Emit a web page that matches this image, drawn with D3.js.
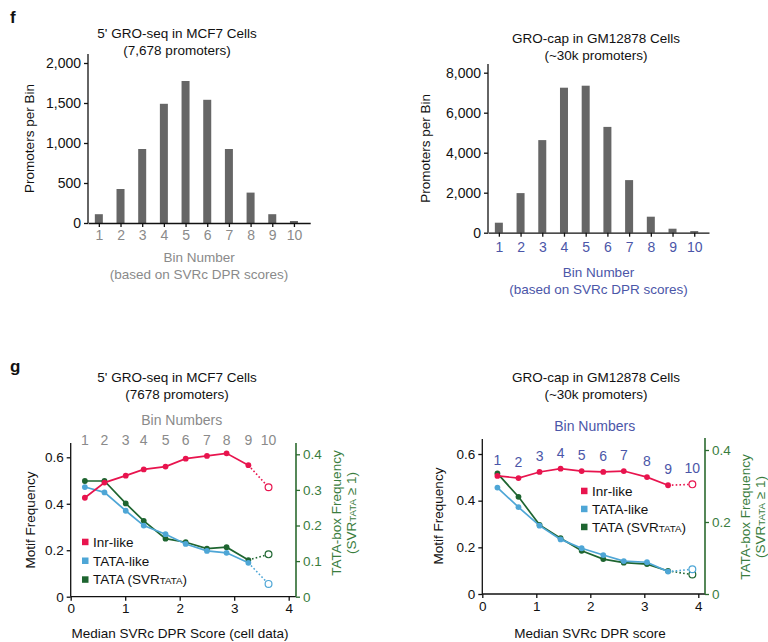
<!DOCTYPE html>
<html>
<head>
<meta charset="utf-8">
<script src="https://cdn.jsdelivr.net/npm/d3@7"></script>
<style>
  html, body { margin: 0; padding: 0; background: #fff; }
  svg { display: block; font-family: "Liberation Sans", Arial, Helvetica, sans-serif; }
</style>
</head>
<body>
<svg id="fig" width="768" height="642"></svg>
<script>
// ---- data ----
const bins = [1, 2, 3, 4, 5, 6, 7, 8, 9, 10];

// Panel f: promoters per bin
const mcf7Counts = [110, 425, 925, 1490, 1775, 1540, 925, 380, 110, 25];
const gmCounts = [500, 1980, 4630, 7250, 7350, 5290, 2630, 800, 200, 80];
const mcf7CountTicks = [0, 500, 1000, 1500, 2000];
const gmCountTicks = [0, 2000, 4000, 6000, 8000];

// Panel g: motif frequency vs median SVRc DPR score
const mcf7Score = [0.26, 0.62, 1.01, 1.34, 1.74, 2.11, 2.50, 2.86, 3.26, 3.63];
const mcf7Inr = [0.426, 0.491, 0.521, 0.548, 0.560, 0.594, 0.606, 0.617, 0.566, 0.471];
const mcf7TataLike = [0.472, 0.449, 0.370, 0.306, 0.269, 0.227, 0.197, 0.189, 0.146, 0.055];
const mcf7TataSvr = [0.325, 0.325, 0.262, 0.213, 0.163, 0.153, 0.135, 0.139, 0.103, 0.119];

const gmScore = [0.28, 0.67, 1.06, 1.45, 1.84, 2.24, 2.62, 3.05, 3.44, 3.89];
const gmInr = [0.506, 0.497, 0.523, 0.537, 0.527, 0.523, 0.527, 0.501, 0.466, 0.470];
const gmTataLike = [0.456, 0.372, 0.293, 0.234, 0.196, 0.167, 0.141, 0.136, 0.096, 0.106];
const gmTataSvr = [0.335, 0.270, 0.192, 0.155, 0.120, 0.097, 0.087, 0.083, 0.064, 0.054];

const scoreTicks = [0, 1, 2, 3, 4];
const motifTicks = [0, 0.2, 0.4, 0.6];
const mcf7TataTicks = [0, 0.1, 0.2, 0.3, 0.4];
const gmTataTicks = [0, 0.2, 0.4];

// ---- styles ----
const C = {
  bar: "#666666",
  gray: "#8a8a8a",
  blueText: "#4b56a8",
  inr: "#e8144e",
  tataLike: "#4ea6d6",
  tataSvr: "#1e6530",
  greenAxis: "#2b6a2f",
  greenText: "#3a7d3e"
};
const svg = d3.select("#fig");
const fracFormat = d => d === 0 ? "0" : d3.format(".1f")(d);

function txt(x, y, s, opts = {}) {
  const t = svg.append("text")
    .attr("x", x).attr("y", y)
    .attr("text-anchor", opts.anchor || "middle")
    .attr("font-size", opts.size || 13.5)
    .attr("fill", opts.fill || "#111");
  if (opts.weight) t.attr("font-weight", opts.weight);
  if (opts.rotate) t.attr("transform", `rotate(${opts.rotate},${x},${y})`);
  t.text(s);
  return t;
}

// text with the small "TATA" of SVR_TATA
function svrText(x, y, before, after, opts = {}) {
  const t = svg.append("text")
    .attr("x", x).attr("y", y)
    .attr("text-anchor", opts.anchor || "start")
    .attr("font-size", opts.size || 13.5)
    .attr("fill", opts.fill || "#111");
  if (opts.rotate) t.attr("transform", `rotate(${opts.rotate},${x},${y})`);
  t.append("tspan").text(before + "SVR");
  t.append("tspan").attr("font-size", (opts.size || 13.5) * 0.72).text("TATA");
  t.append("tspan").text(after);
  return t;
}

function styleAxis(g, color, width, textColor, size) {
  g.select(".domain").attr("stroke", color).attr("stroke-width", width);
  g.selectAll(".tick line").attr("stroke", color).attr("stroke-width", 1.3);
  g.selectAll(".tick text").attr("font-size", size).attr("fill", textColor).attr("font-family", null);
}

// ---- bar chart (panel f) ----
function barChart(cfg) {
  const x = d3.scaleLinear().domain([0.5, cfg.xEnd]).range([cfg.x0, cfg.x1]);
  const y = d3.scaleLinear().domain([0, cfg.yMax]).range([cfg.y0, cfg.yTop]);

  svg.append("g").selectAll("rect").data(cfg.values).join("rect")
    .attr("x", (d, i) => x(bins[i]) - cfg.barW / 2)
    .attr("y", d => y(d))
    .attr("width", cfg.barW)
    .attr("height", d => y(0) - y(d))
    .attr("fill", C.bar);

  const yAxis = svg.append("g")
    .attr("transform", `translate(${cfg.x0},0)`)
    .call(d3.axisLeft(y).tickValues(cfg.ticks).tickFormat(d3.format(",")).tickSize(4).tickPadding(3).tickSizeOuter(0));
  styleAxis(yAxis, "#111", 1.3, "#111", 14);
  yAxis.select(".domain").attr("d", `M0,${cfg.y0}V${cfg.axisTop}`);

  const xAxis = svg.append("g")
    .attr("transform", `translate(0,${cfg.y0})`)
    .call(d3.axisBottom(x).tickValues(bins).tickFormat(d3.format("d")).tickSize(4).tickPadding(cfg.xPad).tickSizeOuter(0));
  styleAxis(xAxis, "#111", 1.3, cfg.xColor, 14);

  txt(cfg.titleX, cfg.titleY, cfg.title1);
  txt(cfg.titleX, cfg.titleY + 17, cfg.title2);
  txt(cfg.yTitleX, (cfg.y0 + cfg.axisTop) / 2, "Promoters per Bin", { rotate: -90 });
  txt((cfg.x0 + cfg.x1) / 2, cfg.xTitleY, "Bin Number", { fill: cfg.xColor });
  txt((cfg.x0 + cfg.x1) / 2, cfg.xTitleY + 16.5, "(based on SVRc DPR scores)", { fill: cfg.xColor });
}

// ---- line chart (panel g) ----
function lineChart(cfg) {
  const x = d3.scaleLinear().domain([0, 4]).range([cfg.x0, cfg.x4]);
  const yL = d3.scaleLinear().domain([0, 0.6]).range([cfg.y0, cfg.yL06]);
  const yR = d3.scaleLinear().domain([0, 0.4]).range([cfg.y0, cfg.yR04]);

  // axes
  const xa = svg.append("g").attr("transform", `translate(0,${cfg.y0})`)
    .call(d3.axisBottom(x).tickValues(scoreTicks).tickFormat(d3.format("d")).tickSize(4).tickPadding(3).tickSizeOuter(0));
  styleAxis(xa, "#111", 1.3, "#111", 13.5);
  xa.select(".domain").attr("d", `M${cfg.x0},0H${cfg.xEnd}`);

  const ya = svg.append("g").attr("transform", `translate(${cfg.x0},0)`)
    .call(d3.axisLeft(yL).tickValues(motifTicks).tickFormat(fracFormat).tickSize(4).tickPadding(3).tickSizeOuter(0));
  styleAxis(ya, "#111", 1.3, "#111", 13.5);
  ya.select(".domain").attr("d", `M0,${cfg.y0}V${cfg.axisTopL}`);

  const yr = svg.append("g").attr("transform", `translate(${cfg.xEnd},0)`)
    .call(d3.axisRight(yR).tickValues(cfg.rTicks).tickFormat(fracFormat).tickSize(4).tickPadding(3).tickSizeOuter(0));
  styleAxis(yr, C.greenAxis, 1.6, C.greenText, 13.5);
  yr.select(".domain").attr("d", `M0,${cfg.y0}V${cfg.axisTopR}`);

  // series: solid through bin 9, dotted to bin 10 (open marker)
  const series = [
    { vals: cfg.tataSvr, y: yR, color: C.tataSvr },
    { vals: cfg.tataLike, y: yL, color: C.tataLike },
    { vals: cfg.inr, y: yL, color: C.inr }
  ];
  const line = d3.line();
  series.forEach(s => {
    const pts = s.vals.map((v, i) => [x(cfg.score[i]), s.y(v)]);
    const g = svg.append("g");
    g.append("path").attr("d", line(pts.slice(0, 9)))
      .attr("fill", "none").attr("stroke", s.color).attr("stroke-width", 1.7);
    g.append("path").attr("d", line(pts.slice(8, 10)))
      .attr("fill", "none").attr("stroke", s.color).attr("stroke-width", 1.6)
      .attr("stroke-dasharray", "1.6,2.2");
    g.selectAll("circle.f").data(pts.slice(0, 9)).join("circle")
      .attr("cx", d => d[0]).attr("cy", d => d[1]).attr("r", 2.9)
      .attr("fill", s.color);
    g.append("circle").attr("cx", pts[9][0]).attr("cy", pts[9][1]).attr("r", 3.4)
      .attr("fill", "#fff").attr("stroke", s.color).attr("stroke-width", 1.2);
  });

  // bin number labels along the top
  svg.append("g").selectAll("text").data(bins).join("text")
    .attr("x", (d, i) => x(cfg.score[i]))
    .attr("y", (d, i) => cfg.binLabelY != null ? cfg.binLabelY : yL(cfg.inr[i]) - 11)
    .attr("text-anchor", "middle")
    .attr("font-size", 14)
    .attr("fill", cfg.binColor)
    .text(d => d);
  txt(cfg.binTitleX, cfg.binTitleY, "Bin Numbers", { fill: cfg.binColor, size: 14 });

  // legend
  const legend = [
    { label: "Inr-like", color: C.inr },
    { label: "TATA-like", color: C.tataLike },
    { label: "TATA", color: C.tataSvr, svr: true }
  ];
  legend.forEach((l, i) => {
    const ly = cfg.legY + i * cfg.legStep;
    svg.append("rect").attr("x", cfg.legX - 3).attr("y", ly - 3).attr("width", 6.5).attr("height", 6.5).attr("fill", l.color);
    if (l.svr) svrText(cfg.legX + 8, ly + 5, "TATA (", ")");
    else txt(cfg.legX + 8, ly + 5, l.label, { anchor: "start" });
  });

  // titles
  txt(cfg.titleX, cfg.titleY, cfg.title1);
  txt(cfg.titleX, cfg.titleY + 17, cfg.title2);
  txt(cfg.yTitleX, cfg.yTitleY, "Motif Frequency", { rotate: -90 });
  txt(cfg.xTitleX, cfg.xTitleY, cfg.xTitle);
  txt(cfg.rTitleX, cfg.rTitleY, "TATA-box Frequency", { rotate: -90, fill: C.greenText });
  svrText(cfg.rTitleX + 15, cfg.rTitleY, "(", " \u2265 1)", { rotate: -90, anchor: "middle", fill: C.greenText });
}

// panel labels
txt(10, 23, "f", { anchor: "start", size: 17, weight: "bold" });
txt(10, 372, "g", { anchor: "start", size: 17, weight: "bold" });

barChart({
  values: mcf7Counts, ticks: mcf7CountTicks, yMax: 2000,
  x0: 88, x1: 310.2, xEnd: 10.75, y0: 223, yTop: 63, axisTop: 54, barW: 8,
  xColor: C.gray, xPad: 3,
  title1: "5' GRO-seq in MCF7 Cells", title2: "(7,678 promoters)", titleX: 177, titleY: 38,
  yTitleX: 34, xTitleY: 262
});

barChart({
  values: gmCounts, ticks: gmCountTicks, yMax: 8000,
  x0: 488, x1: 709, xEnd: 10.68, y0: 232.7, yTop: 72.7, axisTop: 64, barW: 8,
  xColor: C.blueText, xPad: 5,
  title1: "GRO-cap in GM12878 Cells", title2: "(~30k promoters)", titleX: 596, titleY: 43,
  yTitleX: 430, xTitleY: 277
});

lineChart({
  score: mcf7Score, inr: mcf7Inr, tataLike: mcf7TataLike, tataSvr: mcf7TataSvr,
  x0: 70.7, x4: 288.7, xEnd: 296, y0: 596.7, yL06: 457.3, yR04: 454.3,
  axisTopL: 443, axisTopR: 443, rTicks: mcf7TataTicks,
  binLabelY: 445, binColor: C.gray, binTitleX: 181.7, binTitleY: 425,
  legX: 85, legY: 541.7, legStep: 18.8,
  title1: "5' GRO-seq in MCF7 Cells", title2: "(7678 promoters)", titleX: 177, titleY: 382,
  yTitleX: 35, yTitleY: 520, xTitleX: 180, xTitleY: 638,
  xTitle: "Median SVRc DPR Score (cell data)",
  rTitleX: 341, rTitleY: 513
});

lineChart({
  score: gmScore, inr: gmInr, tataLike: gmTataLike, tataSvr: gmTataSvr,
  x0: 482.3, x4: 698.3, xEnd: 705, y0: 594, yL06: 454, yR04: 450,
  axisTopL: 439, axisTopR: 438, rTicks: gmTataTicks,
  binLabelY: null, binColor: C.blueText, binTitleX: 594.7, binTitleY: 431,
  legX: 584, legY: 490.7, legStep: 18,
  title1: "GRO-cap in GM12878 Cells", title2: "(~30k promoters)", titleX: 596, titleY: 382,
  yTitleX: 443, yTitleY: 516, xTitleX: 590, xTitleY: 638,
  xTitle: "Median SVRc DPR score",
  rTitleX: 750, rTitleY: 517
});
</script>
</body>
</html>
